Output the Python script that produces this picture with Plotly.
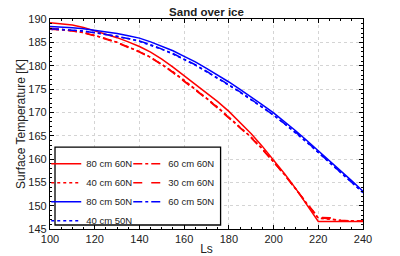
import plotly.graph_objects as go

ls = [100, 105, 110, 115, 120, 125, 130, 135, 140, 145, 150, 155, 160, 165, 170,
      175, 180, 185, 190, 195, 200, 205, 210, 215, 220, 225, 230, 235, 240]

t_80cm_60N = [189.2, 189.0, 188.7, 188.2, 187.5, 186.8, 186.0, 185.1, 184.1, 182.9, 181.4,
              179.7, 177.9, 176.0, 174.1, 172.3, 170.2, 167.9, 165.4, 162.7, 159.8, 156.8,
              153.6, 150.2, 146.6, 146.6, 146.6, 146.6, 146.6]
t_40cm_60N = [187.9, 187.8, 187.5, 187.1, 186.5, 185.8, 185.0, 184.0, 183.0, 181.8, 180.3,
              178.7, 176.9, 175.0, 173.1, 171.1, 169.0, 166.9, 164.7, 162.2, 159.5, 156.6,
              153.5, 150.3, 147.3, 147.1, 146.8, 146.7, 146.7]
t_60cm_60N = [188.0, 187.8, 187.5, 187.1, 186.5, 185.8, 185.0, 184.0, 183.0, 181.8, 180.3,
              178.6, 176.8, 174.9, 173.0, 171.0, 168.9, 166.8, 164.6, 162.1, 159.4, 156.6,
              153.5, 150.3, 147.4, 147.2, 146.8, 146.7, 146.7]
t_30cm_60N = [187.8, 187.7, 187.4, 187.0, 186.4, 185.7, 184.9, 183.9, 182.9, 181.7, 180.2,
              178.5, 176.7, 174.8, 172.9, 170.9, 168.8, 166.7, 164.5, 162.0, 159.4, 156.5,
              153.5, 150.4, 147.5, 147.4, 146.9, 146.7, 146.7]
t_80cm_50N = [188.4, 188.3, 188.1, 187.9, 187.6, 187.3, 186.9, 186.4, 185.9, 185.1, 184.2,
              183.2, 182.0, 180.8, 179.4, 178.0, 176.5, 174.9, 173.3, 171.6, 169.9, 168.0,
              166.0, 163.9, 161.8, 159.7, 157.5, 155.3, 153.1]
t_40cm_50N = [187.8, 187.7, 187.6, 187.4, 187.1, 186.7, 186.3, 185.8, 185.2, 184.4, 183.5,
              182.5, 181.3, 180.1, 178.7, 177.3, 175.8, 174.3, 172.7, 171.0, 169.4, 167.5,
              165.6, 163.5, 161.4, 159.3, 157.1, 155.0, 152.8]
t_60cm_50N = [187.9, 187.8, 187.6, 187.4, 187.1, 186.7, 186.3, 185.8, 185.3, 184.5, 183.6,
              182.6, 181.4, 180.2, 178.8, 177.4, 175.9, 174.4, 172.8, 171.1, 169.4, 167.6,
              165.7, 163.6, 161.5, 159.4, 157.2, 155.0, 152.8]

x_ticks = [100, 120, 140, 160, 180, 200, 220, 240]
y_ticks = [145, 150, 155, 160, 165, 170, 175, 180, 185, 190]

RED = "#ff0000"
BLUE = "#0000ff"
FONT = "Liberation Sans"

series = [
    ("80 cm 60N", t_80cm_60N, RED, "solid", "legend"),
    ("40 cm 60N", t_40cm_60N, RED, "dot", "legend"),
    ("80 cm 50N", t_80cm_50N, BLUE, "solid", "legend"),
    ("40 cm 50N", t_40cm_50N, BLUE, "dot", "legend"),
    ("60 cm 60N", t_60cm_60N, RED, "dashdot", "legend2"),
    ("30 cm 60N", t_30cm_60N, RED, "dash", "legend2"),
    ("60 cm 50N", t_60cm_50N, BLUE, "dashdot", "legend2"),
]

fig = go.Figure()
for name, vals, col, dash, lg in series:
    fig.add_trace(go.Scatter(x=ls, y=vals, mode="lines", name=name, legend=lg,
                             line=dict(color=col, width=1.5, dash=dash)))

axis_common = dict(
    showline=True, linecolor="black", linewidth=1.3, mirror="allticks",
    ticks="inside", ticklen=4, tickcolor="black", tickwidth=1,
    showgrid=True, gridcolor="#d4d4d4", griddash="dot", gridwidth=1,
    zeroline=False, automargin=False,
    tickfont=dict(family=FONT, size=11, color="#222"),
)

fig.update_xaxes(range=[100, 240], tickvals=x_ticks, ticklabelstandoff=0,
                 title=dict(text="Ls", font=dict(family=FONT, size=12, color="#222"), standoff=2),
                 minor=dict(dtick=5, ticks="inside", ticklen=2, tickcolor="black", showgrid=False),
                 **axis_common)
fig.update_yaxes(range=[145, 190], tickvals=y_ticks, ticklabelstandoff=0,
                 title=dict(text="Surface Temperature [K]", font=dict(family=FONT, size=12, color="#222"), standoff=0),
                 minor=dict(dtick=1, ticks="inside", ticklen=2, tickcolor="black", showgrid=False),
                 **axis_common)

leg_common = dict(bgcolor="rgba(0,0,0,0)", borderwidth=0, itemwidth=30,
                  font=dict(family=FONT, size=9.5, color="#222"),
                  yanchor="top", xanchor="left", tracegroupgap=0)

fig.update_layout(
    width=400, height=256,
    margin=dict(l=50, r=37, t=19, b=27),
    paper_bgcolor="white", plot_bgcolor="white",
    title=dict(text="<b>Sand over ice</b>", x=0.5, xref="paper", xanchor="center",
               y=0.955, yanchor="middle", font=dict(family=FONT, size=11.5, color="#222")),
    legend=dict(x=-0.012, y=0.38, **leg_common),
    legend2=dict(x=0.25, y=0.38, **leg_common),
    shapes=[dict(type="rect", xref="paper", yref="paper", x0=0.016, x1=0.545, y0=0.019, y1=0.39,
                 line=dict(color="black", width=1.3), fillcolor="white", layer="above")],
)

fig.write_html("out.html")
